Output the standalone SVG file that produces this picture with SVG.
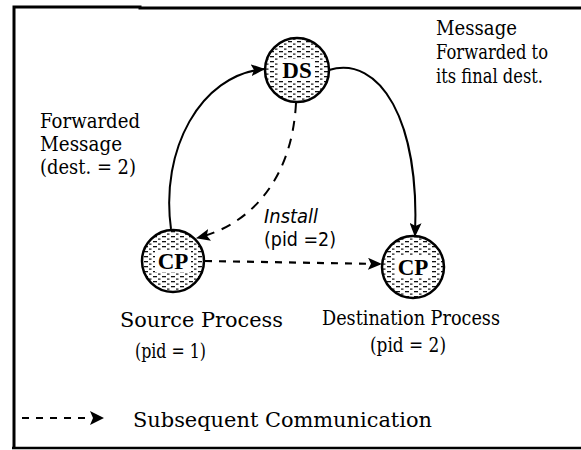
<svg xmlns="http://www.w3.org/2000/svg" width="581" height="450" viewBox="0 0 581 450">
  <defs>
    <pattern id="dots" width="9" height="5" patternUnits="userSpaceOnUse">
      <rect x="0" y="1" width="4" height="1.3" fill="#111"/>
      <rect x="5" y="3.5" width="2.5" height="1.2" fill="#111"/>
    </pattern>
    <marker id="arrow" viewBox="0 0 14 12" refX="13" refY="6" markerWidth="14" markerHeight="12" markerUnits="userSpaceOnUse" orient="auto">
      <path d="M0,0 L14,6 L0,12 L3,6 Z" fill="#000"/>
    </marker>
  </defs>
  <style>
    .node circle { fill: url(#dots); stroke: #000; stroke-width: 2.5; }
    .node .bg { fill: #fff; stroke: none; }
    .lbl { font-family: 'DejaVu Serif', serif; font-size: 20.5px; fill: #000; }
    .alt { font-family: 'DejaVu Sans', sans-serif; font-size: 20px; fill: #000; }
    .nlbl { font-family: 'Liberation Serif', serif; font-size: 23px; font-weight: bold; text-anchor: middle; fill: #000; }
    .solid { fill: none; stroke: #000; stroke-width: 2; }
    .dash { fill: none; stroke: #000; stroke-width: 2; stroke-dasharray: 10 8; }
    .dot { fill: none; stroke: #000; stroke-width: 2.2; stroke-dasharray: 7 7; }
  </style>

  <!-- frame -->
  <path d="M14,449 L14,7 L140,7 L140,8 L581,8" fill="none" stroke="#000" stroke-width="3"/>
  <path d="M12,448 L581,448" fill="none" stroke="#000" stroke-width="2.5"/>

  <!-- connectors -->
  <g id="connectors">
    <path class="solid" d="M171,229 C160,150 200,75 264,69" marker-end="url(#arrow)"/>
    <path class="solid" d="M329,70 C380,55 420,120 415,236" marker-end="url(#arrow)"/>
    <path class="dash" d="M296,103 C292,180 250,225 197,238" marker-end="url(#arrow)"/>
    <path class="dot" d="M205,261 L381,264" marker-end="url(#arrow)"/>
    <path class="dot" d="M22,418 L92,418"/>
    <path d="M90,411 L104,418 L90,425 L93,418 Z" fill="#000"/>
  </g>

  <!-- nodes -->
  <g id="ds" class="node">
    <circle cx="297" cy="70" r="32"/>
    <rect class="bg" x="279" y="59" width="36" height="22"/>
    <text class="nlbl" x="297" y="78">DS</text>
  </g>
  <g id="cp-source" class="node">
    <circle cx="173" cy="261" r="31"/>
    <rect class="bg" x="155" y="250" width="36" height="22"/>
    <text class="nlbl" x="173" y="269">CP</text>
  </g>
  <g id="cp-dest" class="node">
    <circle cx="413" cy="267" r="31"/>
    <rect class="bg" x="395" y="256" width="36" height="22"/>
    <text class="nlbl" x="413" y="275">CP</text>
  </g>

  <!-- labels -->
  <g id="labels">
    <text class="lbl" x="40" y="128" textLength="100" lengthAdjust="spacingAndGlyphs">Forwarded</text>
    <text class="lbl" x="40" y="151" textLength="82" lengthAdjust="spacingAndGlyphs">Message</text>
    <text class="lbl" x="40" y="174" textLength="96" lengthAdjust="spacingAndGlyphs">(dest. = 2)</text>

    <text class="lbl" x="436" y="35" textLength="81" lengthAdjust="spacingAndGlyphs">Message</text>
    <text class="lbl" x="436" y="59" textLength="112" lengthAdjust="spacingAndGlyphs">Forwarded to</text>
    <text class="lbl" x="436" y="83" textLength="107" lengthAdjust="spacingAndGlyphs">its final dest.</text>

    <text class="alt" x="264" y="223" font-style="italic" textLength="54" lengthAdjust="spacingAndGlyphs">Install</text>
    <text class="alt" x="264" y="246" textLength="72" lengthAdjust="spacingAndGlyphs">(pid =2)</text>

    <text class="lbl" x="120" y="327" textLength="163" lengthAdjust="spacingAndGlyphs">Source Process</text>
    <text class="lbl" x="135" y="358" textLength="71" lengthAdjust="spacingAndGlyphs">(pid = 1)</text>

    <text class="lbl" x="322" y="325" textLength="178" lengthAdjust="spacingAndGlyphs">Destination Process</text>
    <text class="lbl" x="370" y="352" textLength="76" lengthAdjust="spacingAndGlyphs">(pid = 2)</text>

    <text class="lbl" x="133" y="427" textLength="299" lengthAdjust="spacingAndGlyphs">Subsequent Communication</text>
  </g>
</svg>
